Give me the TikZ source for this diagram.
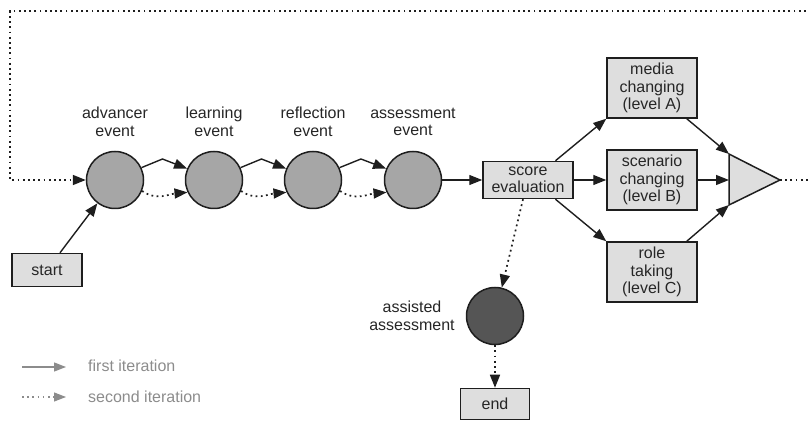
\documentclass[tikz,border=0pt]{standalone}
\usepackage{fontspec}
\setmainfont{Liberation Sans}
\usetikzlibrary{arrows.meta,calc}
\definecolor{ink}{HTML}{1E1E1E}
\definecolor{txt}{HTML}{262626}
\definecolor{boxfill}{HTML}{DEDEDE}
\definecolor{evfill}{HTML}{A6A6A6}
\definecolor{darkfill}{HTML}{555555}
\definecolor{legendgray}{HTML}{8C8C8C}
\begin{document}
\begin{tikzpicture}[x=1pt,y=1pt,
  font=\fontsize{16}{17.5}\selectfont,
  every node/.style={text=txt},
  box/.style={draw=ink, line width=1.5pt, fill=boxfill, align=center, inner sep=0pt},
  event/.style={circle, draw=ink, line width=1.5pt, fill=evfill, minimum size=57pt, inner sep=0pt},
  lbl/.style={align=center},
  tip/.style={-{Triangle[length=13pt,width=10pt]}},
  flow/.style={draw=ink, line width=1.4pt, tip},
  loopflow/.style={flow, line width=1.7pt, dash pattern=on 1.8pt off 3.4pt},
  legendflow/.style={draw=legendgray, line width=1.3pt, -{Triangle[length=12pt,width=9pt]}},
]
\useasboundingbox (0,0) rectangle (809,423);

% event circles and their captions
\node[event] (c1) at (115,243) {};
\node[event] (c2) at (214,243) {};
\node[event] (c3) at (313,243) {};
\node[event] (c4) at (413,243) {};
\node[lbl] (l1) at (115,301) {advancer\\event};
\node[lbl] (l2) at (214,301) {learning\\event};
\node[lbl] (l3) at (313,301) {reflection\\event};
\node[lbl] (l4) at (413,301) {assessment\\event};

% boxes
\node[box, minimum width=70pt, minimum height=33pt] (start) at (47,153) {start};
\node[box, minimum width=90pt, minimum height=37pt] (score) at (528,243) {score\\evaluation};
\node[box, minimum width=90pt, minimum height=60pt] (media) at (652,335) {media\\changing\\(level A)};
\node[box, minimum width=90pt, minimum height=60pt] (scen) at (652,243) {scenario\\changing\\(level B)};
\node[box, minimum width=90pt, minimum height=60pt] (role) at (652,151) {role\\taking\\(level C)};
\node[event, fill=darkfill] (c5) at (495,107) {};
\node[lbl] (l5) at (412,107) {assisted\\assessment};
\node[box, minimum width=69pt, minimum height=31pt] (end) at (495,19) {end};

% merge triangle
\coordinate (tritop) at (729,269);
\coordinate (tribot) at (729,218);
\coordinate (trimid) at (729,243);
\coordinate (tritip) at (780,243);
\draw[ink, line width=1.5pt, fill=boxfill, line join=miter] (tritop) -- (tritip) -- (tribot) -- cycle;

% first iteration
\coordinate (sfoot) at ($(start.north)+(13,0)$);
\draw[flow] (sfoot) -- (c1);
\foreach \a/\b in {c1/c2, c2/c3, c3/c4}{
  \draw[flow] (\a.25) -- ($(\a.east)!0.45!(\b.west)+(0,21)$) -- (\b.157);
  \draw[loopflow] (\a.-22) to[out=-35,in=185] (\b.-155);
}
\draw[flow] (c4) -- (score);
\draw[flow] ($(score.north)!0.6!(score.north east)$) -- (media.south west);
\draw[flow] (score) -- (scen);
\draw[flow] ($(score.south)!0.6!(score.south east)$) -- (role.north west);
\draw[flow] ($(media.south)!0.76!(media.south east)$) -- (tritop);
\draw[flow] (scen) -- (trimid);
\draw[flow] ($(role.north)!0.76!(role.north east)$) -- (tribot);

% loop back for the second iteration
\coordinate (rtop) at (815,412);
\coordinate (ltop) at (10,412);
\draw[loopflow] (tritip) -- (rtop |- tritip) -- (rtop) -- (ltop) |- (c1.west);

% exit towards the assisted assessment
\coordinate (sdrop) at ($(score.south)+(-5,0)$);
\draw[loopflow] (sdrop) -- (c5);
\draw[loopflow] (c5) -- (end);

% legend
\coordinate (la1) at (22,56);
\coordinate (la2) at (66,56);
\coordinate (lb1) at (22,26);
\coordinate (lb2) at (66,26);
\draw[legendflow] (la1) -- (la2);
\draw[legendflow, line width=1.1pt, dash pattern=on 1.6pt off 3.6pt] (lb1) -- (lb2);
\node[anchor=west, text=legendgray, inner sep=0pt] (lt1) at (88,57) {first iteration};
\node[anchor=west, text=legendgray, inner sep=0pt] (lt2) at (88,26) {second iteration};
\end{tikzpicture}
\end{document}
